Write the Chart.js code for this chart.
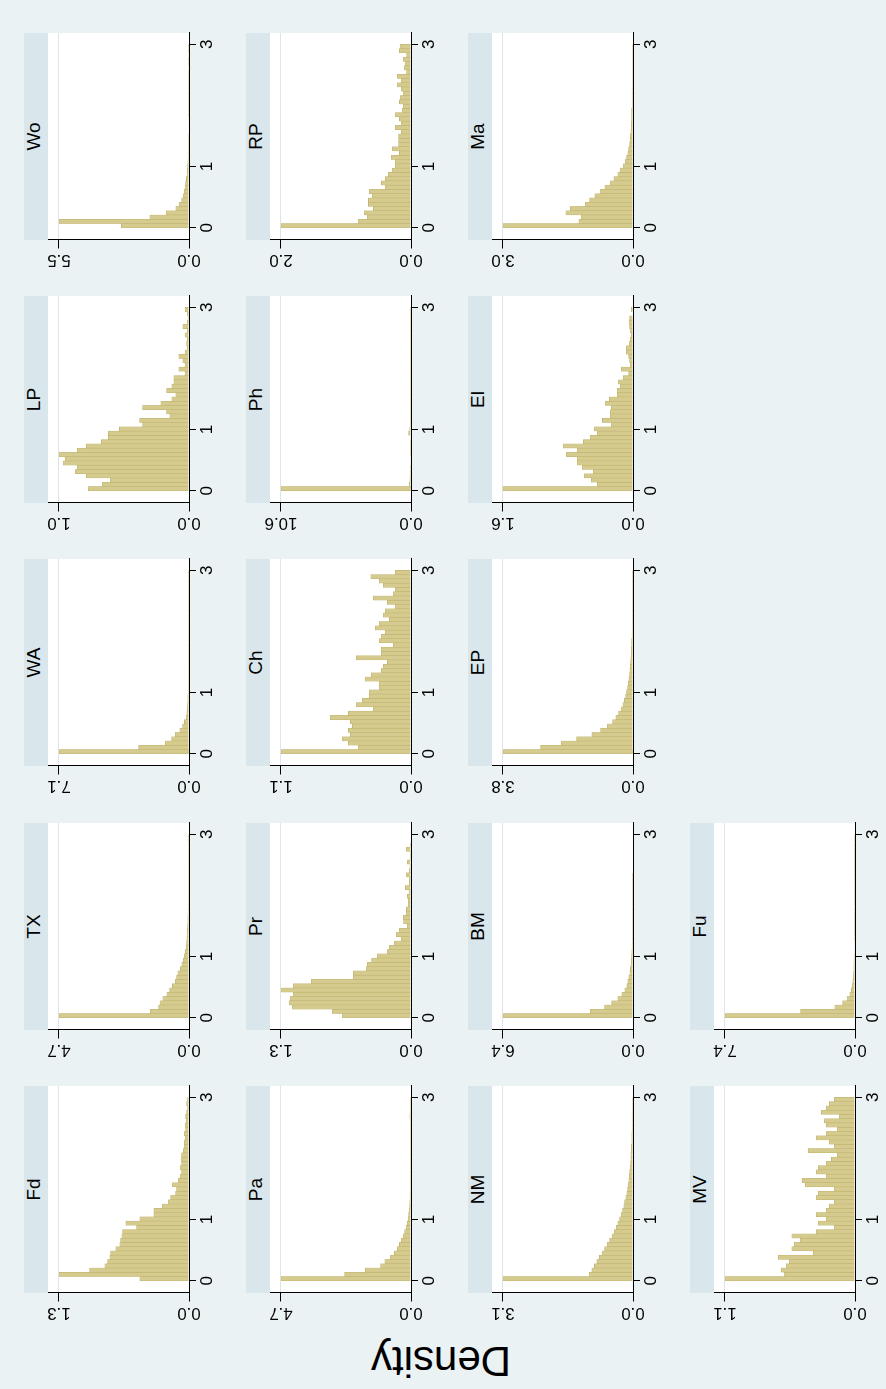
<!DOCTYPE html>
<html><head><meta charset="utf-8">
<script src="https://cdn.jsdelivr.net/npm/chart.js@4.4.0/dist/chart.umd.min.js"></script>
<style>
html,body{margin:0;padding:0;width:886px;height:1389px;overflow:hidden;background:#EAF2F3;}
#root{position:absolute;left:0;top:1389px;width:1389px;height:886px;transform-origin:0 0;transform:rotate(-90deg);background:#EAF2F3;font-family:"Liberation Sans",Arial,Helvetica,sans-serif;}
.strip{position:absolute;background:#D9E6EB;overflow:hidden;}
.strip span{position:absolute;left:0;right:0;top:-1.5px;text-align:center;font-size:19px;color:#000;white-space:nowrap;}
.plotbg{position:absolute;background:#fff;}
canvas{position:absolute;}
#ytitle{position:absolute;width:300px;height:42px;line-height:42px;font-size:42px;text-align:center;color:#000;transform:rotate(-90deg);white-space:nowrap;}
</style></head><body><div id="root"></div>
<script>
// ---- data ----
const panelNames = ["Fd","TX","WA","LP","Wo","Pa","Pr","Ch","Ph","RP","NM","BM","EP","El","Ma","MV","Fu"];
const panelMax = [1.3,4.7,7.1,1.0,5.5,4.7,1.3,1.1,10.6,2.0,3.1,6.4,3.8,1.6,3.0,1.1,7.4];
const xTicks = [0,1,3];
const xTickLabels = ["0","1","3"];
const BIN_W = 3/43;

const dFd = [0.491,1.30,0.993,0.842,0.815,0.792,0.785,0.732,0.692,0.685,0.672,0.665,0.525,0.632,0.491,0.351,0.351,0.267,0.207,0.184,0.134,0.124,0.167,0.107,0.090,0.074,0.090,0.074,0.080,0.074,0.057,0.047,0.047,0.037,0.047,0.033,0.040,0.030,0.033,0.023,0.013,0.023,0.013];
const dTX = [4.7,1.4,1.1,1.05,0.95,0.8,0.7,0.6,0.5,0.45,0.4,0.32,0.26,0.21,0.17,0.14,0.11,0.09,0.08,0.07,0.06,0.05,0.04,0.04,0.035,0.03,0.03,0.025,0.02,0.02,0.02,0.02,0.015,0.015,0.015,0.01,0.01,0.01,0.01,0.01,0.01,0.03,0.01];
const dWA = [7.1,2.75,1.3,0.95,0.75,0.5,0.35,0.25,0.15,0.12,0.1,0.08,0.07,0.06,0.05,0.04,0.04,0.03,0.03,0.03,0.02,0.02,0.02,0.02,0.02,0.02,0.015,0.015,0.015,0.015,0.015,0.01,0.01,0.01,0.01,0.01,0.01,0.01,0.01,0.01,0.04,0.01,0.01];
const dLP = [0.775,0.667,0.605,0.791,0.876,0.860,0.969,0.953,1.00,0.860,0.791,0.674,0.620,0.620,0.535,0.357,0.380,0.147,0.173,0.357,0.217,0.132,0.101,0.173,0.132,0.116,0.116,0.031,0.078,0.031,0.047,0.078,0.031,0.013,0.018,0.013,0.031,0.013,0.047,0.013,0.008,0.013,0.031];
const dWo = [2.86,5.5,1.66,0.96,0.56,0.42,0.31,0.25,0.2,0.17,0.14,0.11,0.085,0.07,0.056,0.045,0.04,0.035,0.03,0.03,0.025,0.025,0.02,0.02,0.02,0.02,0.015,0.015,0.015,0.015,0.015,0.015,0.015,0.015,0.015,0.015,0.015,0.02,0.03,0.03,0.02,0.015,0.015];
const dPa = [4.7,2.4,1.65,1.1,0.95,0.75,0.6,0.5,0.42,0.35,0.28,0.23,0.18,0.14,0.11,0.09,0.07,0.05,0.04,0.035,0.03,0.02,0.02,0.015,0.01,0.01,0.01,0.01,0.01,0.01,0.01,0.01,0.01,0.01,0.01,0.005,0.005,0.005,0.04,0.005,0.005,0.005,0.005];
const dPr = [0.687,0.787,1.187,1.220,1.207,1.177,1.30,1.177,0.997,0.577,0.577,0.447,0.437,0.393,0.337,0.237,0.217,0.167,0.097,0.147,0.117,0.037,0.073,0.077,0.047,0.047,0.027,0.027,0.037,0.020,0.057,0.017,0.017,0.047,0.017,0.010,0.037,0.010,0.010,0.047,0.003,0,0];
const dCh = [1.10,0.446,0.530,0.581,0.513,0.530,0.496,0.513,0.683,0.530,0.319,0.463,0.412,0.353,0.353,0.268,0.268,0.389,0.336,0.251,0.234,0.200,0.463,0.251,0.251,0.150,0.268,0.251,0.217,0.302,0.268,0.183,0.234,0.217,0.133,0.200,0.319,0.150,0.133,0.234,0.268,0.339,0.133];
const dPh = [10.6,0.15,0.1,0.07,0.05,0.05,0.04,0.04,0.03,0.03,0.03,0.03,0.04,0.2,0.1,0.03,0.02,0.02,0.02,0.02,0.02,0.02,0.01,0.01,0.01,0.01,0.01,0.01,0.01,0.01,0.01,0.01,0.01,0.01,0.01,0.01,0.01,0.01,0.01,0.01,0.01,0.01,0.01];
const dRP = [2.00,0.810,0.672,0.718,0.579,0.656,0.656,0.595,0.641,0.395,0.456,0.395,0.349,0.287,0.241,0.241,0.303,0.179,0.287,0.190,0.190,0.190,0.149,0.241,0.149,0.179,0.241,0.133,0.118,0.179,0.164,0.118,0.149,0.210,0.149,0.210,0.067,0.103,0.092,0.118,0.067,0.179,0.169];
const dNM = [3.1,1.05,0.98,0.92,0.86,0.8,0.74,0.68,0.62,0.56,0.5,0.45,0.4,0.36,0.32,0.28,0.25,0.22,0.2,0.17,0.15,0.13,0.12,0.1,0.09,0.08,0.07,0.06,0.05,0.05,0.04,0.04,0.03,0.03,0.03,0.02,0.02,0.02,0.02,0.02,0.01,0.01,0.01];
const dBM = [6.4,2.1,1.4,1.05,0.75,0.55,0.4,0.3,0.25,0.2,0.16,0.13,0.1,0.08,0.07,0.06,0.05,0.04,0.03,0.03,0.02,0.02,0.02,0.01,0.01,0.01,0.01,0.01,0.01,0.005,0.005,0.005,0.005,0.005,0,0,0,0,0,0,0,0,0];
const dEP = [3.8,2.7,2.1,1.65,1.2,0.95,0.75,0.6,0.5,0.42,0.35,0.3,0.25,0.22,0.19,0.16,0.14,0.12,0.1,0.09,0.08,0.07,0.06,0.05,0.05,0.04,0.04,0.03,0.03,0.03,0.02,0.02,0.02,0.02,0.02,0.01,0.01,0.01,0.01,0.01,0.01,0.01,0.01];
const dEl = [1.60,0.439,0.513,0.599,0.488,0.624,0.685,0.685,0.821,0.685,0.862,0.611,0.525,0.439,0.476,0.267,0.377,0.279,0.279,0.267,0.341,0.291,0.193,0.193,0.156,0.181,0.119,0.053,0.144,0.033,0.041,0.053,0.082,0.082,0.049,0.033,0.021,0.037,0.041,0.049,0.041,0,0.021];
const dMa = [3.0,1.25,1.2,1.55,1.45,1.1,1.0,0.88,0.76,0.65,0.53,0.44,0.35,0.3,0.23,0.18,0.15,0.12,0.1,0.08,0.07,0.06,0.05,0.04,0.04,0.03,0.03,0.03,0.02,0.02,0.02,0.02,0.02,0.01,0.01,0.01,0.01,0.01,0.01,0.01,0.01,0.01,0.01];
const dMV = [1.10,0.600,0.625,0.583,0.557,0.650,0.354,0.535,0.515,0.464,0.535,0.328,0.175,0.311,0.243,0.328,0.243,0.218,0.175,0.328,0.311,0.175,0.421,0.447,0.243,0.328,0.311,0.243,0.200,0.150,0.396,0.175,0.218,0.328,0.243,0.150,0.243,0.260,0.133,0.286,0.243,0.218,0.175];
const dFu = [7.4,3.1,1.15,0.7,0.45,0.3,0.22,0.16,0.12,0.1,0.08,0.07,0.06,0.05,0.04,0.03,0.03,0.03,0.02,0.02,0.02,0.02,0.02,0.01,0.01,0.01,0.01,0.01,0.01,0.01,0.01,0.01,0.01,0.01,0.01,0.01,0.01,0.01,0.01,0.01,0.01,0.02,0.01];

const panelSeries = [dFd,dTX,dWA,dLP,dWo,dPa,dPr,dCh,dPh,dRP,dNM,dBM,dEP,dEl,dMa,dMV,dFu];

// ---- layout (in the unrotated landscape frame) ----
const COL_X0 = 96, COL_PITCH = 263.3, ROW_Y0 = 48, ROW_PITCH = 222;
const PLOT_W = 207, PLOT_H = 141, STRIP_H = 24.5;
const YAX = 45, XAX = 34, PADT = 16, PADR = 10;
const X_MIN = -0.2, X_MAX = 3.185, Y_HEAD = 1.0846;
const BAR_FILL = '#D6CB8E', BAR_LINE = '#BFB26E', GRID = '#DCE6EA';
const FONT = '"Liberation Sans", Arial, Helvetica, sans-serif';
const TICK_FS = 17, Y_TICK_LEN = 8.5, Y_LABEL_CENTER = 19.5;

const measureCtx = document.createElement('canvas').getContext('2d');
measureCtx.font = TICK_FS + 'px ' + FONT;

const root = document.getElementById('root');

panelNames.forEach((name, k) => {
  const r = Math.floor(k / 5), c = k % 5;
  const plotL = Math.round(COL_X0 + c * COL_PITCH);
  const plotT = ROW_Y0 + r * ROW_PITCH;

  const strip = document.createElement('div');
  strip.className = 'strip';
  strip.style.cssText = `left:${plotL}px;top:${plotT - STRIP_H}px;width:${PLOT_W}px;height:${STRIP_H}px;line-height:${STRIP_H}px;`;
  const sp = document.createElement('span');
  sp.textContent = name;
  sp.style.lineHeight = STRIP_H + 'px';
  strip.appendChild(sp);
  root.appendChild(strip);

  const bg = document.createElement('div');
  bg.className = 'plotbg';
  bg.style.cssText = `left:${plotL}px;top:${plotT}px;width:${PLOT_W}px;height:${PLOT_H}px;`;
  root.appendChild(bg);

  const cv = document.createElement('canvas');
  const W = YAX + PLOT_W + PADR, H = PADT + PLOT_H + XAX;
  cv.width = W; cv.height = H;
  cv.style.cssText = `left:${plotL - YAX}px;top:${plotT - PADT}px;width:${W}px;height:${H}px;`;
  root.appendChild(cv);

  const m = panelMax[k];
  const vals = panelSeries[k];
  const yLabels = [0, m].map(v => v.toFixed(1));
  const widest = Math.max(...yLabels.map(t => measureCtx.measureText(t).width));
  const yPad = Y_LABEL_CENTER - Y_TICK_LEN - widest / 2;

  new Chart(cv, {
    type: 'bar',
    data: {
      datasets: [{
        data: vals.map((v, i) => ({ x: (i + 0.5) * BIN_W, y: v })),
        backgroundColor: BAR_FILL,
        borderColor: BAR_LINE,
        borderWidth: 0.6,
        barPercentage: 1,
        categoryPercentage: 1
      }]
    },
    options: {
      responsive: false,
      animation: false,
      devicePixelRatio: 1,
      layout: { padding: { top: PADT, right: PADR, left: 0, bottom: 0 } },
      plugins: { legend: { display: false }, tooltip: { enabled: false } },
      scales: {
        x: {
          type: 'linear', min: X_MIN, max: X_MAX, offset: false,
          afterBuildTicks: s => { s.ticks = xTicks.map(v => ({ value: v })); },
          afterFit: s => { s.height = XAX; s.paddingLeft = 0; s.paddingRight = 0; },
          ticks: { autoSkip: false, maxRotation: 0, minRotation: 0, padding: 1.5, color: '#000',
                   font: { family: FONT, size: TICK_FS },
                   callback: v => xTickLabels[xTicks.indexOf(v)] },
          grid: { offset: false, drawOnChartArea: false, drawTicks: true, tickLength: 7, tickColor: '#000', tickWidth: 1 },
          border: { display: true, color: '#000', width: 1, z: 1 }
        },
        y: {
          type: 'linear', min: 0, max: m * Y_HEAD,
          afterBuildTicks: s => { s.ticks = [{ value: 0 }, { value: m }]; },
          afterFit: s => { s.width = YAX; s.paddingTop = 0; s.paddingBottom = 0; },
          ticks: { autoSkip: false, minRotation: 90, maxRotation: 90, crossAlign: 'center', padding: yPad, color: '#000',
                   font: { family: FONT, size: TICK_FS },
                   callback: v => Number(v).toFixed(1) },
          grid: { color: ctx => (ctx.tick && ctx.tick.value === 0) ? 'rgba(0,0,0,0)' : GRID,
                  lineWidth: 1, drawTicks: true, tickLength: Y_TICK_LEN, tickColor: '#000', tickWidth: 1 },
          border: { display: true, color: '#000', width: 1, z: 1 }
        }
      }
    }
  });
});

const yt = document.createElement('div');
yt.id = 'ytitle';
yt.textContent = 'Density';
yt.style.left = (27.85 - 150) + 'px';
yt.style.top = (441 - 21) + 'px';
root.appendChild(yt);
</script>
</body></html>
